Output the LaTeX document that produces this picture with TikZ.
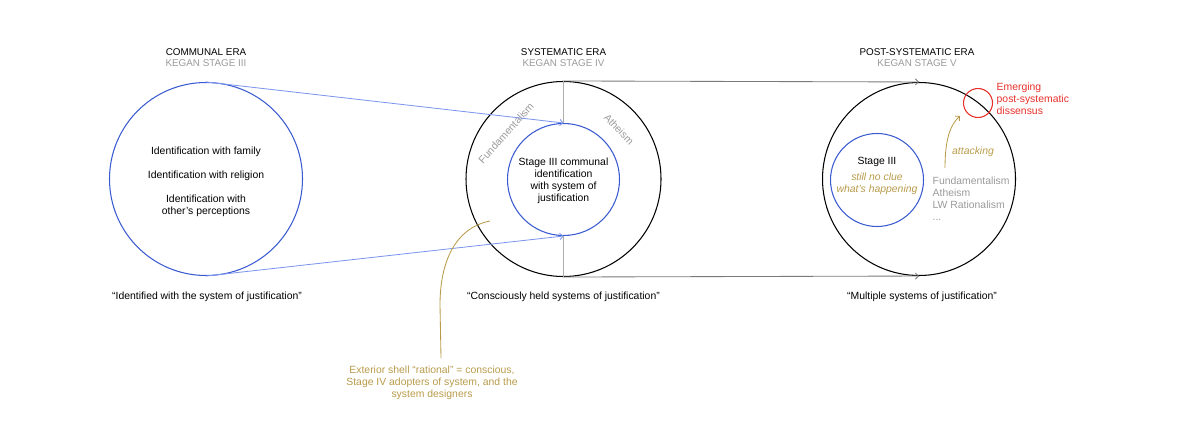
\documentclass[tikz,border=0pt]{standalone}
\usepackage{fontspec}
\setmainfont{Liberation Sans}
\usetikzlibrary{arrows.meta}
\definecolor{ringblue}{HTML}{3A5BD0}
\definecolor{linkblue}{HTML}{7E97EE}
\definecolor{shellgold}{HTML}{B89B4A}
\definecolor{dissred}{HTML}{E8302A}
\definecolor{labelgray}{HTML}{9A9A9A}
\definecolor{railgray}{HTML}{7A7A7A}
\newdimen\pxu \pxu=0.025cm
\begin{document}
\begin{tikzpicture}[x=0.025cm, y=-0.025cm,
  txt/.style={font=\fontsize{7.4}{8.6}\selectfont, align=center, inner sep=1pt},
  titletxt/.style={font=\fontsize{7}{7.9}\selectfont, align=center, inner sep=1pt},
  ring/.style={draw, circle, inner sep=0pt, line width=0.75pt},
  >={Straight Barb[length=2.2pt,width=4.4pt]}]
\useasboundingbox (0,0) rectangle (1200,426);
% circles
\node[ring, draw=ringblue, minimum size=193\pxu] (communal) at (206,179) {};
\node[ring, draw=black, minimum size=195\pxu] (systematic) at (563.5,179) {};
\node[ring, draw=ringblue, minimum size=112\pxu] (systin) at (563.5,179.5) {};
\node[ring, draw=black, minimum size=193\pxu] (postsys) at (919,179) {};
\node[ring, draw=ringblue, minimum size=93\pxu] (postin) at (877,180) {};
\node[ring, draw=dissred, minimum size=29\pxu] (dissent) at (978,103) {};
% titles
\node[titletxt] (communaltitle) at (206,57.5) {COMMUNAL ERA\\\textcolor{labelgray}{KEGAN STAGE III}};
\node[titletxt] (systematictitle) at (563.5,57.5) {SYSTEMATIC ERA\\\textcolor{labelgray}{KEGAN STAGE IV}};
\node[titletxt] (postsystitle) at (917,57.5) {POST-SYSTEMATIC ERA\\\textcolor{labelgray}{KEGAN STAGE V}};
% circle contents
\node[txt] (communaltext) at (206,182) {Identification with family\\[8.4pt]
  Identification with religion\\[8.4pt] Identification with\\other’s perceptions};
\node[txt] (systintext) at (563.5,180.5) {Stage III communal\\identification\\with system of\\justification};
\node[txt, text=labelgray, rotate=48] (fundlabel) at (506,133) {Fundamentalism};
\node[txt, text=labelgray, rotate=-46] (atheismlabel) at (619,129.5) {Atheism};
\node[txt] (stagethree) at (877,162) {Stage III};
\node[txt, text=shellgold, font=\fontsize{7.4}{8.6}\selectfont\itshape] (noclue) at (877,184) {still no clue\\what’s happening};
\node[txt, text=labelgray, align=left, anchor=west] (systemlist) at (931,198.5) {Fundamentalism\\Atheism\\LW Rationalism\\...};
\node[txt, text=shellgold, font=\fontsize{7.4}{8.6}\selectfont\itshape] (attacklabel) at (973,152) {attacking};
\node[txt, text=dissred, align=left, anchor=west] (dissentlabel) at (995,98.5) {Emerging\\post-systematic\\dissensus};
% captions
\node[txt] (communalcap) at (207,296.5) {“Identified with the system of justification”};
\node[txt] (systematiccap) at (563.5,296.5) {“Consciously held systems of justification”};
\node[txt] (postsyscap) at (922,296.5) {“Multiple systems of justification”};
\node[txt, text=shellgold] (shellnote) at (432,383) {Exterior shell “rational” = conscious,\\Stage IV adopters of system, and the\\system designers};
% connectors
\coordinate (shellpt) at (490,221);
\coordinate (notetop) at (441,358);
\coordinate (atkfrom) at (945,168);
\coordinate (atkto) at (960,116);
\draw[linkblue, line width=0.6pt, ->] (communal.north) -- (systin.north);
\draw[linkblue, line width=0.6pt, ->] (communal.south) -- (systin.south);
\draw[labelgray!80, line width=0.6pt] (systematic.north) -- (systin.north);
\draw[labelgray!80, line width=0.6pt] (systin.south) -- (systematic.south);
\draw[railgray, line width=0.6pt, ->] (systematic.north) -- (postsys.north);
\draw[railgray, line width=0.6pt, ->] (systematic.south) -- (postsys.south);
\draw[shellgold, line width=0.6pt] (shellpt) .. controls (455,228) and (440,262) .. (440,305) -- (notetop);
\draw[shellgold, line width=0.6pt, ->] (atkfrom) .. controls (945,140) and (950,125) .. (atkto);
\end{tikzpicture}
\end{document}
